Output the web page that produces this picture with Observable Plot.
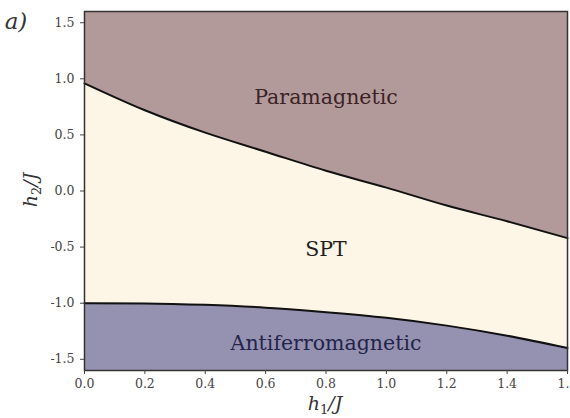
<!DOCTYPE html>
<html>
<head>
<meta charset="utf-8">
<script src="https://cdn.jsdelivr.net/npm/d3@7"></script>
<script src="https://cdn.jsdelivr.net/npm/@observablehq/plot@0.6"></script>
<style>
  html, body { margin: 0; padding: 0; background: white; }
  #chart svg { display: block; }
</style>
</head>
<body>
<div id="chart"></div>
<script>
// h1/J sample positions
const h1 = [0.0, 0.2, 0.4, 0.6, 0.8, 1.0, 1.2, 1.4, 1.6];
// upper boundary (Paramagnetic / SPT)
const upperBoundary = [0.96, 0.72, 0.52, 0.35, 0.18, 0.03, -0.13, -0.27, -0.42];
// lower boundary (SPT / Antiferromagnetic)
const lowerBoundary = [-1.00, -1.002, -1.015, -1.04, -1.08, -1.13, -1.20, -1.29, -1.40];
const xTicks = [0.0, 0.2, 0.4, 0.6, 0.8, 1.0, 1.2, 1.4, 1.6];
const yTicks = [-1.5, -1.0, -0.5, 0.0, 0.5, 1.0, 1.5];
const xDomain = [0, 1.6];
const yDomain = [-1.6, 1.6];
const phaseNames = ["Paramagnetic", "SPT", "Antiferromagnetic"];
const phaseLabelX = [0.8, 0.8, 0.8];
const phaseLabelY = [0.83, -0.52, -1.355];

const rows = h1.map((x, i) => ({x, upper: upperBoundary[i], lower: lowerBoundary[i]}));
const labels = phaseNames.map((name, i) => ({name, x: phaseLabelX[i], y: phaseLabelY[i]}));
const fmt = d => d.toFixed(1);
const curve = "monotone-x";
const serif = "'DejaVu Serif', 'Liberation Serif', serif";

const chart = Plot.plot({
  width: 570,
  height: 418,
  marginLeft: 84,
  marginRight: 3,
  marginTop: 11,
  marginBottom: 48,
  style: {fontFamily: serif, fontSize: "12.5px", color: "#444", background: "white"},
  x: {domain: xDomain, label: null},
  y: {domain: yDomain, label: null},
  marks: [
    Plot.areaY(rows, {x: "x", y1: "upper", y2: () => yDomain[1], fill: "#b39a9a", curve}),
    Plot.areaY(rows, {x: "x", y1: "lower", y2: "upper", fill: "#fdf6e7", curve}),
    Plot.areaY(rows, {x: "x", y1: () => yDomain[0], y2: "lower", fill: "#9591b1", curve}),
    Plot.lineY(rows, {x: "x", y: "upper", stroke: "#111", strokeWidth: 2, curve}),
    Plot.lineY(rows, {x: "x", y: "lower", stroke: "#111", strokeWidth: 2, curve}),
    Plot.frame({stroke: "#333", strokeWidth: 1.5}),
    Plot.axisX({ticks: xTicks, tickFormat: fmt, tickSize: 4, tickPadding: 5, label: null}),
    Plot.axisY({ticks: yTicks, tickFormat: fmt, tickSize: 4, tickPadding: 6, label: null}),
    Plot.text(labels, {x: "x", y: "y", text: "name", fontSize: 20.5, fontFamily: serif,
      fill: (d) => d.name === "Paramagnetic" ? "#3b2326" : d.name === "SPT" ? "#1e1e1e" : "#24244a"})
  ]
});

document.getElementById("chart").appendChild(chart);

// Axis titles and panel tag as real text
const svg = d3.select(chart);
const xl = svg.append("text")
  .attr("x", 325).attr("y", 410)
  .attr("text-anchor", "middle")
  .style("font-family", serif)
  .style("font-style", "italic")
  .style("font-size", "19px")
  .attr("fill", "#333");
xl.append("tspan").text("h");
xl.append("tspan").attr("dy", 4).style("font-size", "13px").style("font-style", "normal").text("1");
xl.append("tspan").attr("dy", -4).text("/J");

const yl = svg.append("text")
  .attr("transform", "translate(37,190) rotate(-90)")
  .attr("text-anchor", "middle")
  .style("font-family", serif)
  .style("font-style", "italic")
  .style("font-size", "19px")
  .attr("fill", "#333");
yl.append("tspan").text("h");
yl.append("tspan").attr("dy", 4).style("font-size", "13px").style("font-style", "normal").text("2");
yl.append("tspan").attr("dy", -4).text("/J");

svg.append("text")
  .attr("x", 16).attr("y", 29)
  .style("font-family", serif)
  .style("font-style", "italic")
  .style("font-size", "23px")
  .attr("fill", "#333")
  .text("a)");
</script>
</body>
</html>
